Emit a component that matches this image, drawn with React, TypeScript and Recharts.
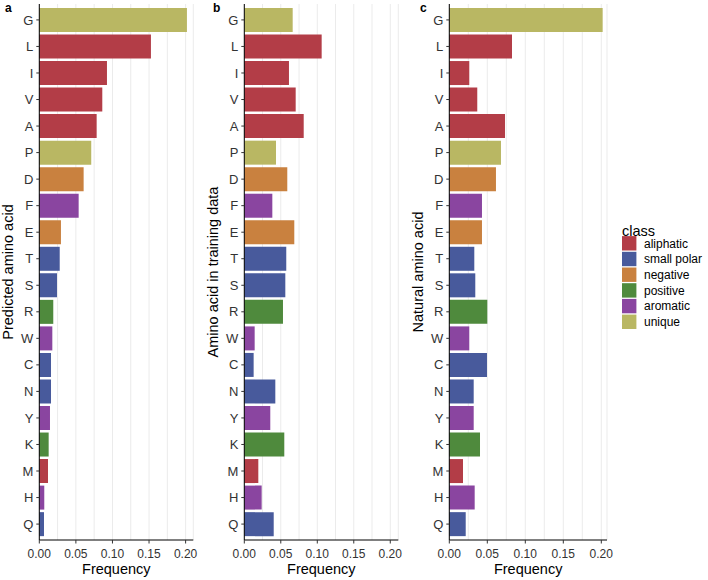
import React from 'react';
import { BarChart, Bar, XAxis, YAxis, CartesianGrid, Cell } from 'recharts';

const aminoAcids = ['G', 'L', 'I', 'V', 'A', 'P', 'D', 'F', 'E', 'T', 'S', 'R', 'W', 'C', 'N', 'Y', 'K', 'M', 'H', 'Q'];
const aminoClass = [
  'unique', 'aliphatic', 'aliphatic', 'aliphatic', 'aliphatic', 'unique', 'negative', 'aromatic', 'negative', 'small polar',
  'small polar', 'positive', 'aromatic', 'small polar', 'small polar', 'aromatic', 'positive', 'aliphatic', 'aromatic', 'small polar',
];
const predictedFreq = [0.2018, 0.1526, 0.0925, 0.0861, 0.0784, 0.071, 0.0606, 0.0538, 0.0296, 0.0279, 0.0242, 0.0191, 0.0178, 0.016, 0.016, 0.0146, 0.0128, 0.0119, 0.0068, 0.0064];
const trainingFreq = [0.0663, 0.106, 0.0612, 0.0704, 0.0814, 0.0434, 0.0589, 0.0384, 0.0685, 0.0575, 0.0562, 0.053, 0.0142, 0.0128, 0.0425, 0.0356, 0.0548, 0.0192, 0.0238, 0.0403];
const naturalFreq = [0.2018, 0.0825, 0.0263, 0.0368, 0.0733, 0.068, 0.0614, 0.043, 0.043, 0.0329, 0.0342, 0.05, 0.0263, 0.0496, 0.0321, 0.0321, 0.0404, 0.018, 0.0334, 0.0216];
const classNames = ['aliphatic', 'small polar', 'negative', 'positive', 'aromatic', 'unique'];
const classColors = ['#B33D47', '#485A9C', '#C9813F', '#4F8A3D', '#8A45A0', '#B9B763'];
const xTickLabels = [0, 0.05, 0.1, 0.15, 0.2];
const gridValues = [0, 0.025, 0.05, 0.075, 0.1, 0.125, 0.15, 0.175, 0.2];

const FONT = '"Liberation Sans", Arial, Helvetica, sans-serif';

const rows = aminoAcids.map((aa, i) => ({
  aa,
  cls: aminoClass[i],
  predicted: predictedFreq[i],
  training: trainingFreq[i],
  natural: naturalFreq[i],
}));

const colorOf = (cls: string) => classColors[classNames.indexOf(cls)];

const XTick = (props: any) => {
  const { x, y, payload } = props;
  const v = payload.value as number;
  const major = xTickLabels.some((t) => Math.abs(t - v) < 1e-9);
  if (!major) return <g />;
  return (
    <g>
      <line x1={x} x2={x} y1={y} y2={y + 3.5} stroke="#333" strokeWidth={1} />
      <text x={x} y={y + 17.5} textAnchor="middle" fontSize={12} fill="#333" fontFamily={FONT}>
        {v.toFixed(2)}
      </text>
    </g>
  );
};

const YTitle = (props: any) => {
  const vb = props.viewBox || { x: 0, y: 0, width: 0, height: 0 };
  const x = vb.x + vb.width - 26.5;
  const y = vb.y + vb.height / 2;
  return (
    <text x={x} y={y} transform={`rotate(-90 ${x} ${y})`} textAnchor="middle" fontSize={14.5} fill="#000" fontFamily={FONT}>
      {props.text}
    </text>
  );
};

const XTitle = (props: any) => {
  const vb = props.viewBox || { x: 0, y: 0, width: 0, height: 0 };
  const x = vb.x + vb.width / 2;
  return (
    <text x={x} y={574} textAnchor="middle" fontSize={14.5} fill="#000" fontFamily={FONT}>
      {props.text}
    </text>
  );
};

type PanelProps = {
  left: number;
  width: number;
  yAxisWidth: number;
  marginRight: number;
  dataKey: string;
  domainMax: number;
  title: string;
};

function Panel({ left, width, yAxisWidth, marginRight, dataKey, domainMax, title }: PanelProps) {
  return (
    <div style={{ position: 'absolute', left, top: 0 }}>
      <BarChart
        width={width}
        height={580}
        data={rows}
        layout="vertical"
        margin={{ top: 4, right: marginRight, bottom: 0, left: 0 }}
        barCategoryGap="5%"
      >
        <CartesianGrid horizontal={false} vertical stroke="#EBEBEB" strokeWidth={1} />
        <XAxis
          type="number"
          dataKey={dataKey}
          domain={[0, domainMax]}
          ticks={gridValues}
          interval={0}
          height={40}
          tickLine={false}
          tickSize={0}
          tickMargin={0}
          tick={<XTick />}
          axisLine={{ stroke: '#000', strokeWidth: 1 }}
          label={<XTitle text="Frequency" />}
        />
        <YAxis
          type="category"
          dataKey="aa"
          width={yAxisWidth}
          interval={0}
          padding={{ top: 2.65, bottom: 2.65 }}
          tickSize={3}
          tickMargin={3}
          tickLine={{ stroke: '#333' }}
          tick={{ fontSize: 13, fill: '#333', fontFamily: FONT }}
          axisLine={{ stroke: '#000', strokeWidth: 1 }}
          label={<YTitle text={title} />}
        />
        <Bar dataKey={dataKey} isAnimationActive={false}>
          {rows.map((r) => (
            <Cell key={r.aa} fill={colorOf(r.cls)} />
          ))}
        </Bar>
      </BarChart>
    </div>
  );
}

export default function App() {
  const legendStart = 243.3;
  const legendStep = 15.7;
  return (
    <div style={{ position: 'absolute', left: 0, top: 0, width: 708, height: 580, background: '#fff', fontFamily: FONT }}>
      <Panel left={0} width={200} yAxisWidth={39.3} marginRight={6.7} dataKey="predicted" domainMax={0.2105} title="Predicted amino acid" />
      <Panel left={200} width={205} yAxisWidth={44.3} marginRight={6.7} dataKey="training" domainMax={0.211} title="Amino acid in training data" />
      <Panel left={405} width={217} yAxisWidth={44.3} marginRight={15} dataKey="natural" domainMax={0.2075} title="Natural amino acid" />
      <svg width={708} height={580} style={{ position: 'absolute', left: 0, top: 0, pointerEvents: 'none' }}>
        <text x={5} y={11.5} fontSize={12} fontWeight="bold" fill="#000" fontFamily={FONT}>a</text>
        <text x={213} y={11.5} fontSize={12} fontWeight="bold" fill="#000" fontFamily={FONT}>b</text>
        <text x={420} y={11.5} fontSize={12} fontWeight="bold" fill="#000" fontFamily={FONT}>c</text>
        <text x={622} y={236} fontSize={14.5} fill="#000" fontFamily={FONT}>class</text>
        {classNames.map((name, i) => {
          const cy = legendStart + i * legendStep;
          return (
            <g key={name}>
              <rect x={622} y={cy - 7.2} width={14.4} height={14.4} fill={classColors[i]} />
              <text x={644} y={cy + 4.3} fontSize={12} fill="#000" fontFamily={FONT}>{name}</text>
            </g>
          );
        })}
      </svg>
    </div>
  );
}
